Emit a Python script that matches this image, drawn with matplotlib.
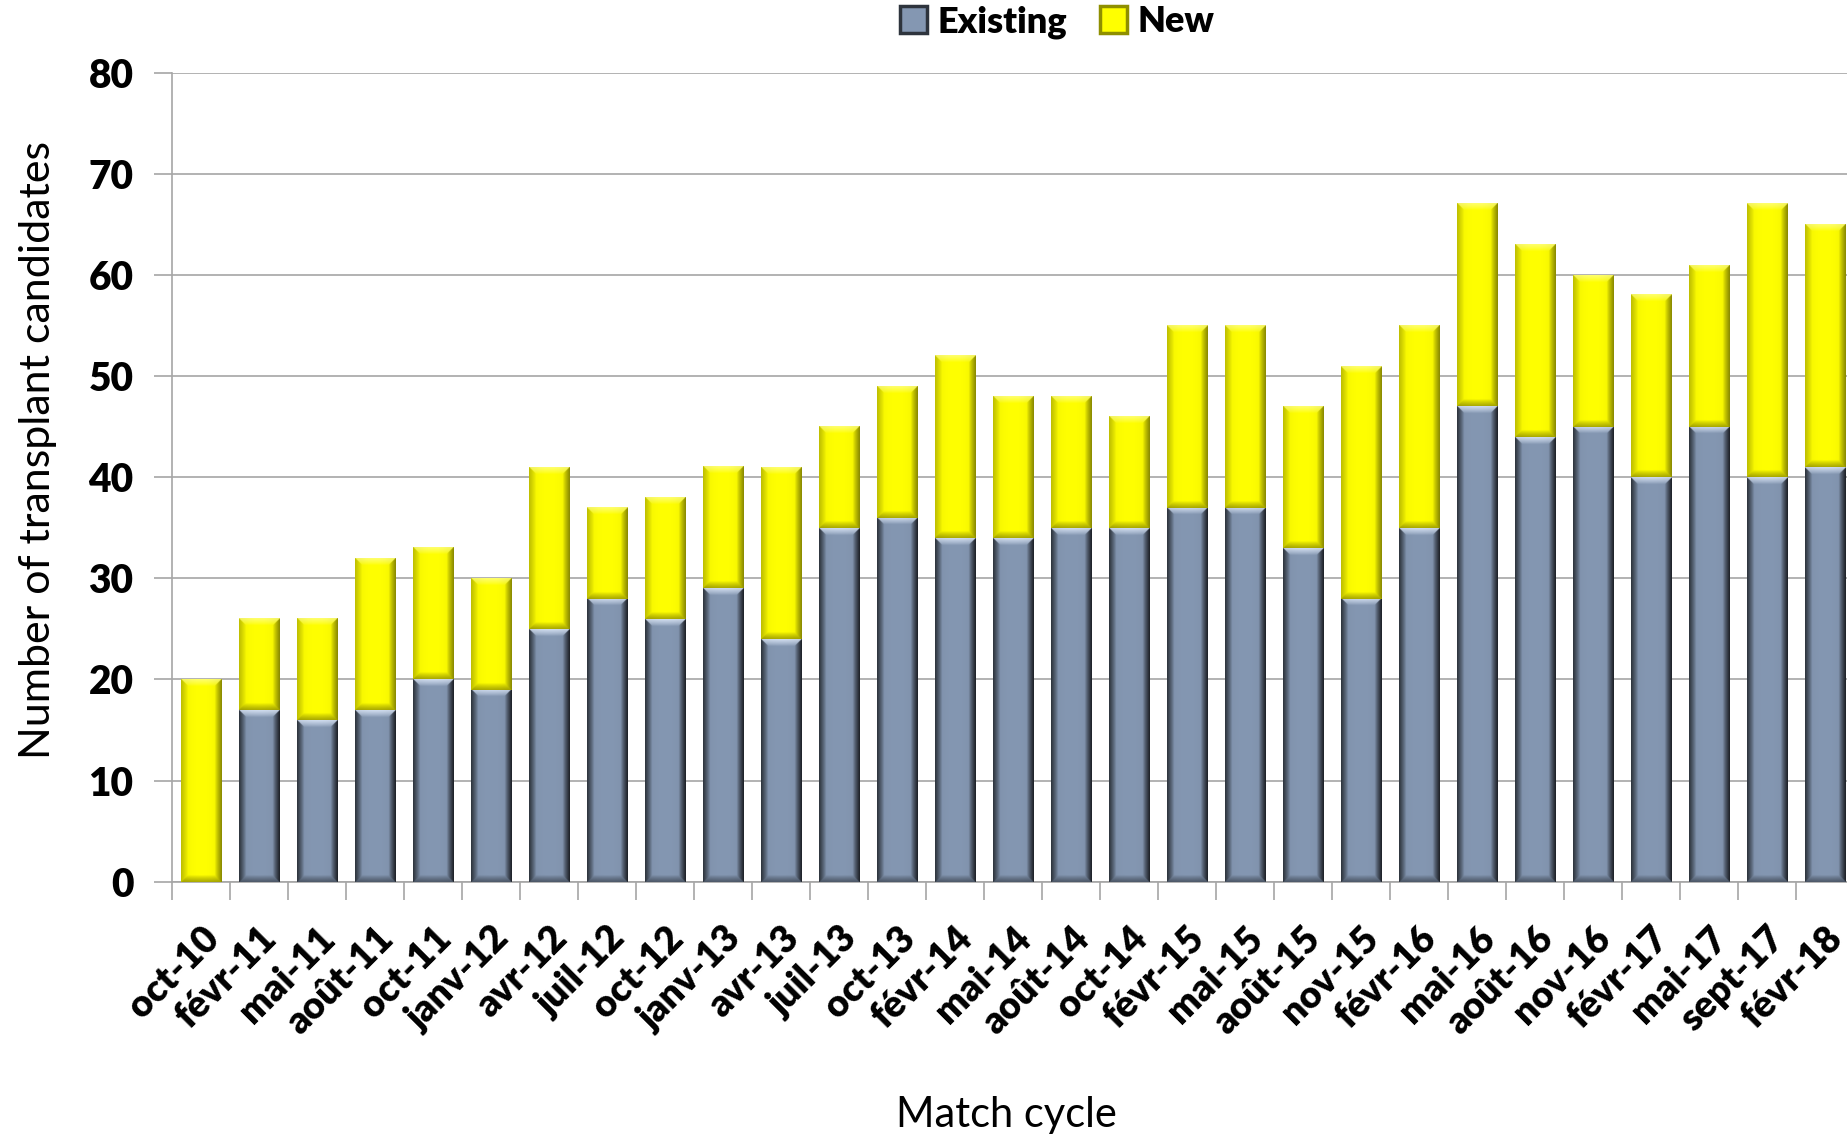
import numpy as np
import matplotlib
matplotlib.use("Agg")
import matplotlib.pyplot as plt
from matplotlib.patches import Patch
from matplotlib.colors import to_rgb

plt.rcParams['font.family'] = ['Lato', 'DejaVu Sans']

# Match cycles and candidate counts
cycles = ['oct-10', 'févr-11', 'mai-11', 'août-11', 'oct-11', 'janv-12', 'avr-12',
          'juil-12', 'oct-12', 'janv-13', 'avr-13', 'juil-13', 'oct-13', 'févr-14',
          'mai-14', 'août-14', 'oct-14', 'févr-15', 'mai-15', 'août-15', 'nov-15',
          'févr-16', 'mai-16', 'août-16', 'nov-16', 'févr-17', 'mai-17', 'sept-17',
          'févr-18']
existing = [0, 17, 16, 17, 20, 19, 25, 28, 26, 29, 24, 35, 36, 34, 34, 35, 35, 37, 37,
            33, 28, 35, 47, 44, 45, 40, 45, 40, 41]
new = [20, 9, 10, 15, 13, 11, 16, 9, 12, 12, 17, 10, 13, 18, 14, 13, 11, 18, 18, 14,
       23, 20, 20, 19, 15, 18, 16, 27, 24]
yticks = [0, 10, 20, 30, 40, 50, 60, 70, 80]

W, H = 1847, 1138
DPI = 100
fig = plt.figure(figsize=(W / DPI, H / DPI), dpi=DPI)
ax = fig.add_axes([172.3 / W, 1 - 881.7 / H, (1854.3 - 172.3) / W, (881.7 - 72.7) / H])

grid_col = '#a6a6a6'
x = np.arange(len(cycles))
bw = 0.69

grey = '#8497b2'
yellow = '#ffff00'
b1 = ax.bar(x, existing, bw, color=grey, zorder=3, linewidth=0)
b2 = ax.bar(x, new, bw, bottom=existing, color=yellow, zorder=3, linewidth=0)

ax.set_xlim(-0.5, len(cycles) - 0.5)
ax.set_ylim(0, 80)

# pixel scale of the data axes, used to size the bevel frame
pos = ax.get_position()
px_x = pos.width * W / (len(cycles))
px_y = pos.height * H / 80.0


def bevel(patch, base, left, right, top, bottom, bev=7.0):
    """Overlay a framed bevel shading on a bar patch."""
    x0, y0 = patch.get_x(), patch.get_y()
    w, h = patch.get_width(), patch.get_height()
    if h <= 0:
        return
    wpx, hpx = w * px_x, h * px_y
    nx = int(max(wpx * 2, 4))
    ny = int(max(hpx * 2, 4))
    u = (np.arange(nx) + 0.5) / nx * wpx
    v = (np.arange(ny) + 0.5) / ny * hpx
    U, V = np.meshgrid(u, v)
    dl, dr = U, wpx - U
    db, dt = V, hpx - V
    d = np.stack([dl, dr, dt, db])
    idx = np.argmin(d, axis=0)
    dmin = np.min(d, axis=0)
    wgt = np.clip(1 - dmin / bev, 0, 1) ** 0.8
    cols = np.array([to_rgb(left), to_rgb(right), to_rgb(top), to_rgb(bottom)])
    img = np.empty((ny, nx, 3))
    b = np.array(to_rgb(base))
    edge = cols[idx]
    img[:] = b * (1 - wgt[..., None]) + edge * wgt[..., None]
    # soft shading across the face
    cu = (U / wpx - 0.5)
    img *= (1 - 0.06 * (cu * 2) ** 2)[..., None]
    img = np.clip(img, 0, 1)
    ax.imshow(img, extent=(x0, x0 + w, y0, y0 + h), origin='lower', aspect='auto',
              interpolation='bilinear', zorder=3.5)


for p in b1:
    bevel(p, grey, '#2e343d', '#1c1f25', '#d2def0', '#4d5868')
for p in b2:
    bevel(p, yellow, '#c9c900', '#8f8f00', '#ffff70', '#a8a800')

ax.set_xlim(-0.5, len(cycles) - 0.5)
ax.set_ylim(0, 80)

# gridlines and axes styling
ax.set_yticks(yticks)
ax.yaxis.grid(True, color=grid_col, linewidth=1.2, zorder=0)
ax.set_axisbelow(True)
for s in ['top', 'right']:
    ax.spines[s].set_visible(False)
for s in ['left', 'bottom']:
    ax.spines[s].set_color(grid_col)
    ax.spines[s].set_linewidth(1.2)

ax.tick_params(axis='y', length=13, width=1.2, color=grid_col, direction='out',
               labelsize=28, pad=15)
for t in ax.get_yticklabels():
    t.set_fontweight('heavy')

ax.set_xticks(x)
ax.set_xticklabels(cycles)
ax.set_xticks(np.arange(len(cycles) + 1) - 0.5, minor=True)
ax.tick_params(axis='x', which='major', length=0, labelsize=27, pad=28)
ax.tick_params(axis='x', which='minor', length=13, width=1.2, color=grid_col,
               direction='out')
for t in ax.get_xticklabels():
    t.set_fontweight('heavy')
    t.set_rotation(45)
    t.set_ha('right')
    t.set_va('top')
    t.set_rotation_mode('anchor')

fig.text(38 / W, 1 - 450 / H, 'Number of transplant candidates', rotation=90,
         ha='center', va='center', fontsize=31, fontweight='normal')
fig.text(1006 / W, 1 - 1115 / H, 'Match cycle', ha='center', va='center',
         fontsize=30, fontweight='normal')

handles = [Patch(facecolor=grey, edgecolor='#2e343d', linewidth=2.5),
           Patch(facecolor=yellow, edgecolor='#8f8f00', linewidth=2.5)]
leg = fig.legend(handles, ['Existing', 'New'], loc='center', ncol=2,
                 bbox_to_anchor=(1057 / W, 1 - 22 / H), frameon=False,
                 prop={'size': 26, 'weight': 'heavy'}, handlelength=0.75,
                 handleheight=0.75, handletextpad=0.3, columnspacing=0.9)

fig.savefig('out.png', dpi=DPI)
